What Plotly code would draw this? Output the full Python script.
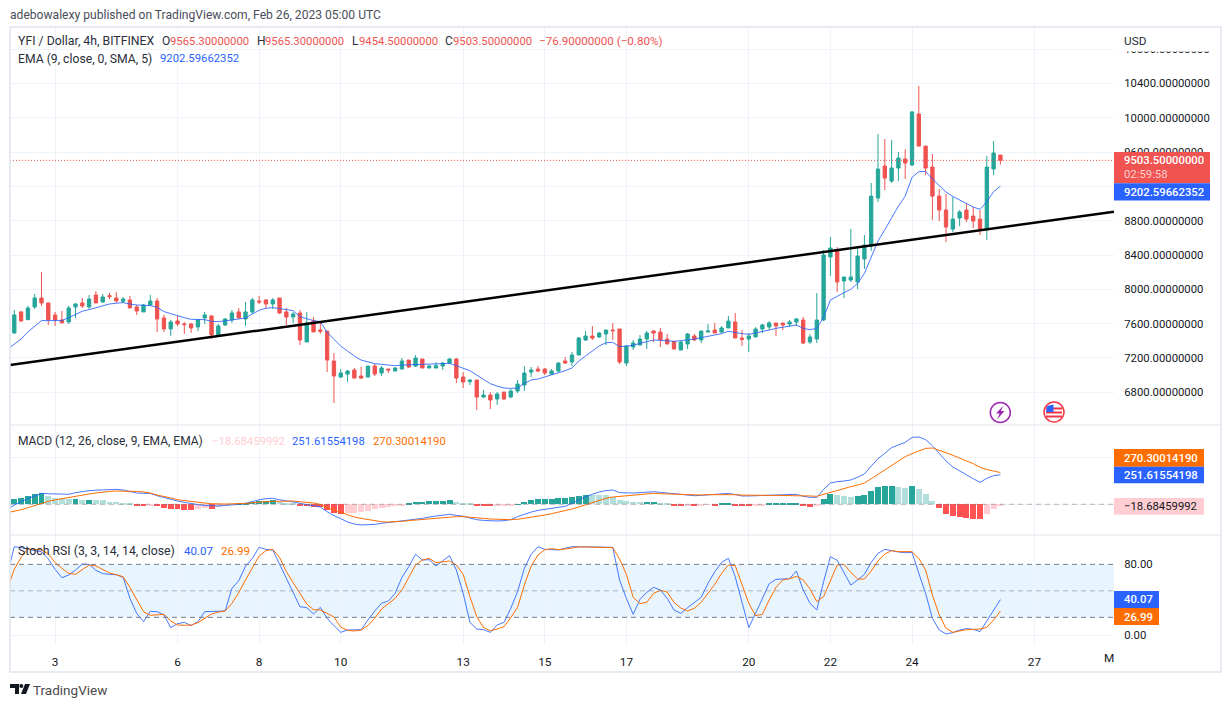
import pandas as pd
import plotly.graph_objects as go

W, H = 1232, 707
FONT = "Roboto"
DARK = "#2a2e39"
RED = "#ef5350"
GREEN = "#26a69a"
BLUE = "#2962ff"
ORANGE = "#ff6d00"
GRID = "#f0f3fa"
BORDER = "#e0e3eb"
NUM = 11.3  # numeric text size

# ---------- data ----------
opens = [7491,7736,7646,7794,7899,7841,7701,7642,7619,7794,
7841,7794,7934,7852,7926,7899,7860,7876,7794,7736,
7817,7864,7666,7538,7631,7596,7596,7561,7666,7689,
7456,7584,7642,7736,7654,7736,7864,7876,7829,7899,
7736,7677,7724,7386,7631,7526,
7513,7164,6977,7012,7059,6989,6977,7105,7024,7070,7047,7070,7175,7105,7187,7082,7082,7105,7140,7187,6977,6923,6942,6744,6767,6721,6802,6744,6814,6884,7035,7070,7070,7012,7047,7164,7152,7234,7409,7455,7444,7479,7525,7537,7140,7327,7350,
7420,7514,7502,7420,7393,7292,7362,7455,7409,7502,7525,7502,7549,7619,7432,7420,7444,7537,7560,7607,7607,7595,7619,7642,7385,7420,7642,8377,8446,8097,8108,8085,8353,
8504,9064,9437,9262,9414,9519,9449,10044,9670,9425,9087,8924,8702,8831,8924,8854,8819,8702,9402,9565.3]
highs = [7759,7747,7806,7946,8202,7841,7736,7747,7806,7841,
7899,7934,7981,7946,7957,7969,7911,7922,7817,7829,
7934,7899,7701,7642,7689,7619,7608,7654,7736,7701,
7596,7666,7759,7782,7852,7899,7922,7887,7899,7899,
7782,7736,7759,7736,7677,7608,
7513,7257,7070,7059,7082,7094,7105,7129,7105,7070,7094,7199,7175,7234,7187,7117,7152,7152,7199,7199,7035,6954,6942,6826,6802,6802,6802,6837,6942,7105,7094,7105,7082,7070,7152,7210,7269,7444,7513,7572,7502,7525,7607,7537,7339,7409,7467,
7514,7525,7549,7479,7397,7397,7490,7479,7514,7595,7607,7572,7689,7724,7525,7490,7560,7595,7630,7607,7607,7642,7665,7677,7479,7957,8458,8610,8493,8143,8703,8493,8633,
9239,9810,9752,9740,9600,9635,10079,10370,9670,9577,9169,9111,9076,8924,9006,8959,8924,9554,9729,9565.3]
lows = [7479,7619,7642,7771,7806,7584,7573,7608,7596,7666,
7782,7771,7841,7841,7887,7841,7841,7782,7701,7736,
7806,7503,7503,7456,7573,7479,7491,7514,7596,7421,
7444,7573,7608,7666,7573,7712,7829,7771,7771,7712,
7584,7608,7351,7386,7503,7479,
7035,6674,6965,6919,6965,6954,6977,6989,6989,7024,7047,7070,7082,7094,7082,7082,7082,7059,7129,6907,6849,6884,6592,6732,6604,6651,6709,6732,6790,6814,6977,7035,7000,7012,7035,7129,7105,7234,7397,7409,7432,7350,7409,7129,7105,7292,7350,
7304,7385,7327,7362,7304,7292,7304,7397,7374,7502,7490,7490,7549,7432,7339,7269,7444,7490,7525,7455,7525,7560,7572,7362,7362,7374,7630,8155,7968,7898,8085,8003,8237,
8446,9017,9157,9239,9262,9286,9437,9670,9332,8807,8796,8551,8667,8737,8784,8714,8633,8574,9332,9454.5]
closes = [7701,7631,7782,7899,7841,7642,7642,7608,7782,7829,
7806,7887,7841,7911,7915,7864,7887,7782,7747,7817,
7864,7654,7538,7619,7596,7588,7549,7642,7701,7468,
7573,7654,7724,7666,7736,7876,7852,7829,7876,7724,
7677,7712,7409,7608,7503,7510,
7175,6989,7024,7047,6965,6965,7105,7012,7082,7059,7082,7164,7094,7199,7082,7105,7109,7140,7187,6965,6919,6942,6744,6767,6709,6779,6721,6814,6895,7024,7059,7047,7024,7047,7140,7140,7234,7432,7455,7432,7490,7525,7517,7152,7339,7374,7420,
7490,7490,7409,7362,7304,7385,7479,7409,7514,7514,7490,7549,7630,7432,7416,7455,7537,7584,7607,7572,7584,7619,7654,7374,7444,7642,8400,8481,8085,8143,8143,8388,8516,
9087,9402,9297,9414,9530,9472,10067,9670,9414,9087,8924,8726,8819,8901,8819,8796,8702,9425,9589,9503.5]
# line series start one 4h bar before the first visible candle
ema = [7300,7363,7421,7503,7573,7635,7635,7635,7635,7670,7709,7744,7763,7786,7810,7829,7837,7845,7829,7817,7814,7810,7790,7740,7716,7689,7670,7650,7650,7646,7627,7623,7631,7642,7650,7666,7712,7755,7779,7786,7775,7759,7751,7681,7658,7635,7623,
7498,7416,7339,7280,7222,7175,7152,7133,7125,7113,7109,7117,7121,7121,7125,7129,7129,7133,7136,7109,7078,7051,7000,6950,6899,6872,6849,6845,6849,6903,6942,6954,6977,6997,7020,7051,7082,7164,7222,7280,7339,7377,7381,7331,7339,7346,7370,7393,7409,7405,7401,
7393,7401,7409,7420,7436,7451,7467,7483,7510,7494,7483,7475,7490,7510,7525,7545,7556,7572,7584,7545,7529,7545,7673,7875,7922,7961,8000,8069,8186,8373,
8563,8695,8831,8971,9087,9305,9371,9375,9286,9204,9134,9083,9041,9002,8959,8932,9021,9138,9202.6]
macd_line = [-40,-6,25,48,73,93,90,88,86,85,99,110,116,120,123,126,127,122,107,96,93,93,73,56,42,28,17,5,-3,-9,-15,-15,-9,-6,-1,8,25,39,48,51,39,31,20,8,-1,-9,-23,-63,-97,-122,-151,-168,-176,-173,-171,-162,-156,-148,-142,-137,-131,-120,-108,-100,-91,-85,-94,-102,-117,-131,-137,-142,-142,-139,
-131,-105,-83,-66,-52,-43,-34,-26,-17,8,36,65,85,105,116,122,99,96,96,99,102,107,102,96,88,79,73,73,76,79,85,90,93,82,71,71,73,76,76,79,79,82,85,68,59,59,127,181,193,198,207,230,258,326,388,434,482,505,527,570,573,550,499,434,369,318,283,252,218,187,221,244,251.6]
signal_line = [-71,-60,-46,-29,-9,11,25,37,48,59,71,79,88,96,105,110,113,113,113,110,105,96,79,68,54,39,31,22,17,11,5,2,2,4,5,8,14,20,22,25,28,28,28,22,17,11,-1,-29,-49,-68,-91,-108,-120,-131,-142,-148,-151,-151,-145,-139,-134,-128,-122,-117,-111,-108,-105,-105,-108,-114,-120,-125,-128,-131,
-131,-128,-120,-111,-100,-91,-80,-68,-57,-40,-23,-3,17,34,51,62,68,73,79,85,88,93,90,88,85,82,82,79,79,82,82,85,85,82,78,76,76,76,76,76,76,76,75,73,71,68,85,105,122,136,150,164,181,218,255,292,332,369,405,431,454,476,479,462,439,417,394,371,346,315,295,283,270.3]
macd_hist = [45,54,71,88,94,74,57,51,45,48,37,40,37,34,23,17,14,9,-6,-9,-6,-17,-31,-40,-43,-45,-48,-37,-34,-40,-23,-9,-3,3,9,17,28,31,34,20,8,3,-14,-17,-20,-25,-48,-71,-79,-78,-74,-68,-57,-43,-28,-20,-11,-6,11,17,18,26,27,28,34,17,11,9,-8,-14,-15,-13,-11,
-9,1,17,34,45,46,47,54,55,62,71,79,78,77,76,65,37,28,20,19,21,22,11,10,-14,-15,-6,-14,-6,-5,-11,11,12,-11,-14,-15,-14,-6,3,4,4.5,5,11,-14,-22,-14,45,88,79,71,62,71,79,113,148,156,157,148,139,156,130,88,28,-31,-82,-99,-108,-116,-125,-126,-82,-40,-18.68]
stoch_k = [69.8,100,98.9,97,95.5,94.4,86.1,74.4,64.9,67.9,73.6,80.4,80,73.2,69.5,68.7,68.3,65.3,41.5,24.5,15.1,26.8,26.4,22.7,8.3,12.8,14.3,10.6,15.1,26.4,26.4,26.8,27.2,52.8,61.5,77.8,86.8,99.3,97,96.3,79.3,64.2,48.3,32.1,31,23.8,31.3,18.9,10.6,3,5.7,5.7,6,17,27.2,35.9,38.5,47.2,65.3,77.4,91.4,84.9,85.3,78.2,83.8,89.8,73.6,47.2,14.3,6.8,6,3,11.3,14.3,
30.2,49.1,75.5,91.4,100,97,96.6,96.3,98.2,100,100,99.7,99.7,99.7,99.3,99.3,62.3,41.5,23.4,40.4,48.3,54,51,41.5,28.3,24.5,31,36.6,42.7,58.5,71.7,82.3,86.8,66,35.9,8.3,24.5,41.5,58.1,63,63.4,63.8,72.5,51,35.9,28.3,60.4,88.7,84.6,69.8,56.6,62.3,68.7,82.3,92.5,97,95.1,94,93.2,93.6,69.8,47.2,18.9,5.7,1.2,2.6,5.7,7.2,6.4,3.8,15.9,28.3,40.07]
stoch_d = [52.8,74.4,88,97.4,97,96.3,92.1,81.9,75.5,69.8,68.7,74.4,79.3,78.2,74,70.2,68.3,66,54,39.6,26.4,22.3,22.7,23.4,15.9,11.3,11,11.3,14,18.9,23.8,26,27.2,35.9,47.9,62.3,75.5,89.5,95.5,97,88,71.7,59.3,47.2,35.1,28.7,28.3,24.5,20.4,9,5.3,4.5,5.7,10.6,18.9,29.4,35.9,41.5,51,66,79.3,84.9,86.8,81.9,82.7,83.8,79.3,68.7,43.4,20.8,8.3,4.9,6.8,9.4,
19.6,31.3,56.6,78.2,90.6,96.6,97.8,96.6,97.4,98.9,99.7,99.7,99.7,99.3,99.3,98.9,86.1,68.7,42.7,35.5,37,47.2,50.6,48.7,37,30.6,27.2,30.2,37,47.2,57.4,69.8,79.3,78.5,55.9,35.9,21.9,23.4,39.6,54,62.3,63.8,66.4,62.3,52.1,37.8,43.4,60.4,79.3,80,71,63.4,63.4,72.5,83.8,91.7,95.5,94.4,94,94.4,86.8,73.6,45.3,22.7,7.5,3,4.5,6,6.4,6.8,8.7,17,26.99]
trend_prices = [7117, 8905]

price_ticks = [6800,7200,7600,8000,8400,8800,9200,9600,10000,10400,10800]
price_hidden = [9200]          # covered by the last-value boxes in the reference
macd_ticks = [0, 400]
stoch_ticks = [0, 40, 80]
day_dates = ["2023-02-03","2023-02-06","2023-02-08","2023-02-10","2023-02-13","2023-02-15",
             "2023-02-17","2023-02-20","2023-02-22","2023-02-24","2023-02-27"]
day_labels = ["3","6","8","10","13","15","17","20","22","24","27"]

assert all(len(a) == 146 for a in (opens, highs, lows, closes, macd_hist))
assert all(len(a) == 147 for a in (ema, macd_line, signal_line, stoch_k, stoch_d))

bar_times = pd.date_range("2023-02-02 00:00", periods=146, freq="4h")
line_times = pd.date_range("2023-02-01 20:00", periods=147, freq="4h")
BAR = pd.Timedelta(hours=4)
t0 = bar_times[0]
x_left = t0 - 0.632 * BAR
x_right = t0 + 161.7 * BAR

# ---------- helpers (canvas pixels -> paper) ----------
def px(x): return x / W
def py(y): return 1 - y / H

shapes, annos = [], []

def text(s, x, y, color=DARK, size=12, anchor="left", weight=None):
    annos.append(dict(text=s, x=px(x), y=py(y), xref="paper", yref="paper", showarrow=False,
                      xanchor=anchor, yanchor="middle", borderpad=0, borderwidth=0,
                      font=dict(family=FONT, size=size, color=color,
                                **({"weight": weight} if weight else {}))))

def rect(x0, y0, x1, y1, fill, line=None, layer="above"):
    shapes.append(dict(type="rect", xref="paper", yref="paper", x0=px(x0), x1=px(x1), y0=py(y0), y1=py(y1),
                       fillcolor=fill, line=dict(width=0 if line is None else 1, color=line or fill), layer=layer))

def hline(x0, x1, y, color, width=1):
    shapes.append(dict(type="line", xref="paper", yref="paper", x0=px(x0), x1=px(x1), y0=py(y), y1=py(y),
                       line=dict(color=color, width=width), layer="above"))

def poly(points, fill, line_color=None, line_w=0):
    d = "M" + "L".join(f"{px(a):.5f},{py(b):.5f}" for a, b in points) + "Z"
    shapes.append(dict(type="path", xref="paper", yref="paper", path=d, fillcolor=fill,
                       line=dict(width=line_w, color=line_color or fill), layer="above"))

def circle(cx, cy, r, fill, line_color, line_w):
    shapes.append(dict(type="circle", xref="paper", yref="paper", x0=px(cx-r), x1=px(cx+r), y0=py(cy+r), y1=py(cy-r),
                       fillcolor=fill, line=dict(width=line_w, color=line_color), layer="above"))

# ---------- figure ----------
fig = go.Figure()
fig.add_trace(go.Candlestick(x=bar_times, open=opens, high=highs, low=lows, close=closes, xaxis="x", yaxis="y",
    increasing=dict(line=dict(color=GREEN, width=1), fillcolor=GREEN),
    decreasing=dict(line=dict(color=RED, width=1), fillcolor=RED),
    whiskerwidth=0, hoverinfo="skip", showlegend=False))
fig.add_trace(go.Scatter(x=line_times, y=ema, mode="lines", line=dict(color=BLUE, width=1), xaxis="x", yaxis="y",
    hoverinfo="skip", showlegend=False, opacity=0.85))
fig.add_trace(go.Scatter(x=[x_left, x_right], y=trend_prices, mode="lines", line=dict(color="#000000", width=2.5),
    xaxis="x", yaxis="y", hoverinfo="skip", showlegend=False))

hist_colors = []
prev = macd_hist[0] - 1
for v in macd_hist:
    if v >= 0:
        hist_colors.append(GREEN if v >= prev else "#b2dfdb")
    else:
        hist_colors.append("#ff5252" if v <= prev else "#ffcdd2")
    prev = v
fig.add_trace(go.Bar(x=bar_times, y=macd_hist, marker=dict(color=hist_colors, line=dict(width=0)),
    width=12600000, xaxis="x", yaxis="y2", hoverinfo="skip", showlegend=False))
fig.add_trace(go.Scatter(x=line_times, y=macd_line, mode="lines", line=dict(color=BLUE, width=1), xaxis="x", yaxis="y2",
    hoverinfo="skip", showlegend=False, opacity=0.85))
fig.add_trace(go.Scatter(x=line_times, y=signal_line, mode="lines", line=dict(color=ORANGE, width=1), xaxis="x", yaxis="y2",
    hoverinfo="skip", showlegend=False))
fig.add_trace(go.Scatter(x=line_times, y=stoch_k, mode="lines", line=dict(color=BLUE, width=1), xaxis="x", yaxis="y3",
    hoverinfo="skip", showlegend=False, opacity=0.85))
fig.add_trace(go.Scatter(x=line_times, y=stoch_d, mode="lines", line=dict(color=ORANGE, width=1), xaxis="x", yaxis="y3",
    hoverinfo="skip", showlegend=False))

# stoch band and levels, price line, zero line
shapes.append(dict(type="rect", xref="paper", yref="y3", x0=px(10), x1=px(1114), y0=20, y1=80,
                   fillcolor="rgba(33,150,243,0.1)", line=dict(width=0), layer="below"))
for lv, col in ((80, "#787b86"), (50, "rgba(120,123,134,0.55)"), (20, "#787b86")):
    shapes.append(dict(type="line", xref="paper", yref="y3", x0=px(10), x1=px(1114), y0=lv, y1=lv,
                       line=dict(color=col, width=1, dash="5px,4px"), layer="above"))
shapes.append(dict(type="line", xref="paper", yref="y", x0=px(10), x1=px(1114), y0=closes[-1], y1=closes[-1],
                   line=dict(color=RED, width=1, dash="1px,2px"), layer="above"))
shapes.append(dict(type="line", xref="paper", yref="y2", x0=px(10), x1=px(1114), y0=0, y1=0,
                   line=dict(color="rgba(120,123,134,0.5)", width=1, dash="5px,4px"), layer="above"))

# frame
hline(10, 1221, 425, BORDER)
hline(10, 1221, 535, BORDER)
shapes.append(dict(type="rect", xref="paper", yref="paper", x0=px(10), x1=px(1221), y0=py(672), y1=py(27),
                   line=dict(color=BORDER, width=1.5), fillcolor="rgba(0,0,0,0)", layer="above"))

# price scale labels
rect(1115, 28, 1220, 51.5, "#ffffff")
text("USD", 1124, 41, size=11.8)
rect(1114, 152, 1210, 183.3, "#f05350")
text("9503.50000000", 1124, 160.5, "#ffffff", size=NUM, weight=500)
text("02:59:58", 1124, 174.5, "#fbd0d0", size=NUM)
rect(1114, 183.3, 1210, 200.5, BLUE)
text("9202.59662352", 1124, 192, "#ffffff", size=NUM, weight=500)
rect(1114, 449, 1204, 466.7, ORANGE)
text("270.30014190", 1124, 458, "#ffffff", size=NUM, weight=500)
rect(1114, 466.7, 1204, 483.3, BLUE)
text("251.61554198", 1124, 475, "#ffffff", size=NUM, weight=500)
rect(1114, 498, 1204, 514.7, "#ffcdd2")
text("\u221218.68459992", 1124, 506.5, "#131722", size=NUM)
rect(1114, 591, 1159, 608, BLUE)
text("40.07", 1124, 599.5, "#ffffff", size=NUM, weight=500)
rect(1114, 608, 1159, 625, ORANGE)
text("26.99", 1124, 617, "#ffffff", size=NUM, weight=500)
text("M", 1109, 658, "#131722", anchor="center", size=11.8)

# header
text("adebowalexy published on TradingView.com, Feb 26, 2023 05:00 UTC", 10, 15, "#4a4e59", size=12.1)
text("YFI / Dollar, 4h, BITFINEX", 18, 41.5, DARK, size=12.3)
for s, x, c, sz in (("O", 162, DARK, 12), ("9565.30000000", 170, RED, NUM),
                ("H", 257, DARK, 12), ("9565.30000000", 265, RED, NUM), ("L", 352, DARK, 12), ("9454.50000000", 359, RED, NUM),
                ("C", 445, DARK, 12), ("9503.50000000", 453, RED, NUM), ("\u221276.90000000 (\u22120.80%)", 539, RED, 11.6)):
    text(s, x, 41.5, c, size=sz)
text("EMA (9, close, 0, SMA, 5)", 18, 58.5, size=12.2)
text("9202.59662352", 160, 58.5, BLUE, size=NUM)
text("MACD (12, 26, close, 9, EMA, EMA)", 18, 441)
text("\u221218.68459992", 212, 441, "#ffcdd2", size=NUM)
text("251.61554198", 292, 441, BLUE, size=NUM)
text("270.30014190", 373, 441, ORANGE, size=NUM)
text("Stoch RSI (3, 3, 14, 14, close)", 18, 551, size=12.3)
text("40.07", 184, 551, BLUE, size=11.6)
text("26.99", 221, 551, ORANGE, size=11.6)

# event badges
circle(1000.3, 412.5, 10, "#ffffff", "#9c27b0", 1.5)
poly([(1003.5,405.5),(996,413.5),(999.6,413.5),(997,419.5),(1004.5,411),(1000.8,411)], "#9c27b0")
circle(1054, 412, 10, "#ffffff", "#f23645", 1.5)
for yy in (407.5, 411.5, 415.5):
    poly([(1046,yy),(1062,yy),(1062,yy+2),(1046,yy+2)], "#f23645")
poly([(1047,406),(1053.5,404.5),(1053.5,412),(1046,412)], "#2962ff")

# TradingView footer
poly([(10,684),(19,684),(19,694),(15,694),(15,688),(10,688)], "#131722")
circle(21.3, 686, 2, "#131722", "#131722", 0)
poly([(25,684),(30,684),(26,694),(21,694)], "#131722")
text("TradingView", 33, 689.5, "#4a4a4a", size=13.5)

axis_font = dict(family=FONT, size=NUM, color="#131722")
common_y = dict(side="right", anchor="x", showgrid=True, gridcolor=GRID, gridwidth=1, zeroline=False, showline=False,
                ticks="outside", ticklen=7, tickcolor="rgba(0,0,0,0)", tickfont=axis_font, tickmode="array", fixedrange=True)

P_TOP, P_BOT = 8400 + (255 - 27) * 11.66, 8400 - (425 - 255) * 11.66
M_TOP, M_BOT = (504.3 - 425) / 0.1175, (504.3 - 535) / 0.1175
S_TOP, S_BOT = (635 - 535) * 1.1325, (635 - 644) * 1.1325

fig.update_layout(
    width=W, height=H, autosize=False, margin=dict(l=0, r=0, t=0, b=0, pad=0),
    paper_bgcolor="#ffffff", plot_bgcolor="#ffffff", showlegend=False, hovermode=False, dragmode=False,
    bargap=0,
    font=dict(family=FONT, size=12, color="#131722"),
    xaxis=dict(type="date", domain=[10/W, 1114/W], anchor="y3", range=[x_left, x_right], rangeslider=dict(visible=False),
               tickmode="array", tickvals=day_dates, ticktext=day_labels, showgrid=True, gridcolor=GRID, gridwidth=1,
               zeroline=False, showline=False, ticks="outside", ticklen=7, tickcolor="rgba(0,0,0,0)",
               tickfont=dict(family=FONT, size=11.8, color="#131722"), fixedrange=True),
    yaxis=dict(domain=[py(425), py(27)], range=[P_BOT, P_TOP], tickvals=price_ticks,
               ticktext=["" if v in price_hidden else f"{v:.8f}" for v in price_ticks], **common_y),
    yaxis2=dict(domain=[py(535), py(425)], range=[M_BOT, M_TOP], tickvals=macd_ticks,
                ticktext=["" for v in macd_ticks], **common_y),
    yaxis3=dict(domain=[py(644), py(535)], range=[S_BOT, S_TOP], tickvals=stoch_ticks,
                ticktext=["" if v == 40 else f"{v:.2f}" for v in stoch_ticks], **common_y),
    shapes=shapes, annotations=annos,
)

fig.write_html("out.html", config={"displayModeBar": False},
               post_script="document.body.style.margin='0';document.documentElement.style.overflow='hidden';")
